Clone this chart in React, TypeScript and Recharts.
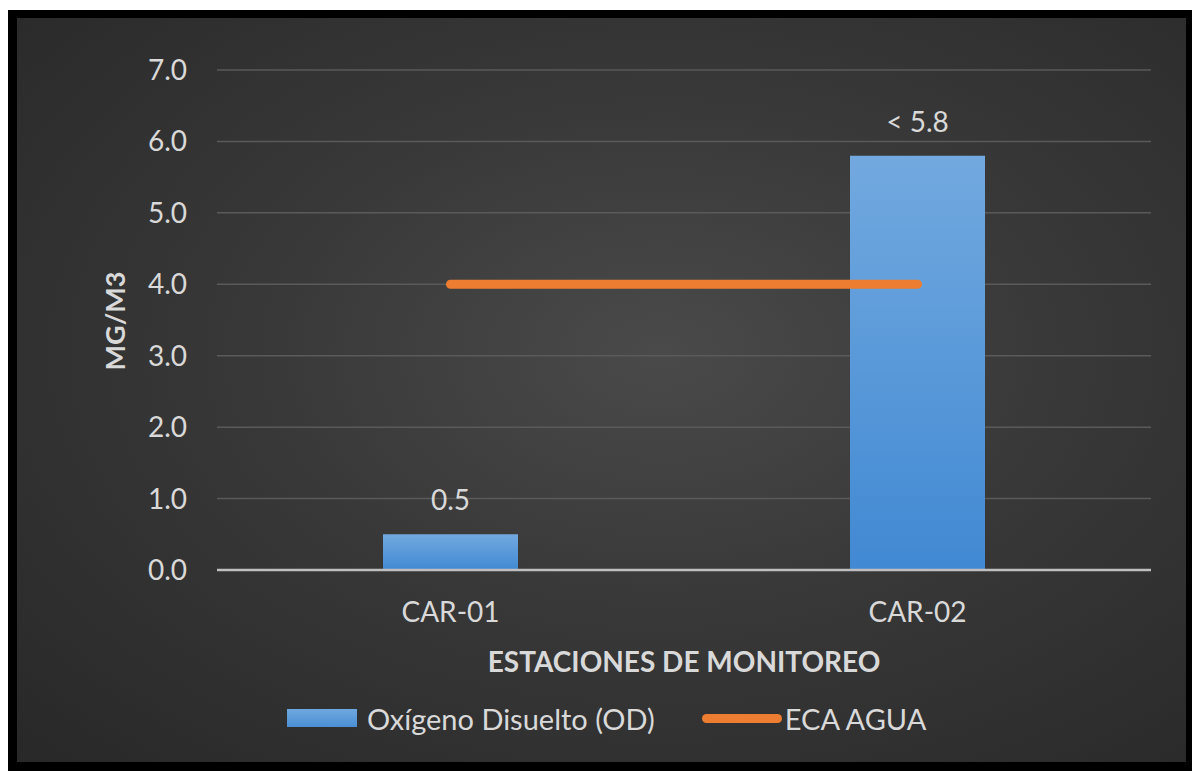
import { ComposedChart, Bar, Line, XAxis, YAxis, CartesianGrid, Legend, LabelList } from 'recharts'

const estaciones = ['CAR-01', 'CAR-02']
const oxigenoDisuelto = [0.5, 5.8]
const etiquetasOD = ['0.5', '< 5.8']
const ecaAgua = [4.0, 4.0]
const yTicks = [0, 1, 2, 3, 4, 5, 6, 7]

const data = estaciones.map((name, i) => ({
  name,
  od: oxigenoDisuelto[i],
  eca: ecaAgua[i],
  label: etiquetasOD[i],
}))

const font = 'Lato, "Open Sans", sans-serif'
const textColor = '#d9d9d9'

const renderLegend = () => (
  <div
    style={{
      display: 'flex',
      alignItems: 'center',
      height: 36,
      fontFamily: font,
      fontSize: 29,
      color: textColor,
      paddingLeft: 270,
    }}
  >
    <span style={{ display: 'inline-block', width: 70, height: 18, background: 'linear-gradient(#6fa8e0, #4a8fd4)', marginRight: 10 }} />
    <span>Oxígeno Disuelto (OD)</span>
    <span style={{ display: 'inline-block', width: 80, height: 9, borderRadius: 5, background: '#ED7D31', marginLeft: 47, marginRight: 3 }} />
    <span>ECA AGUA</span>
  </div>
)

export default function App() {
  return (
    <div style={{ position: 'fixed', left: 8, top: 10, right: 0, bottom: 0, background: '#000' }}>
      <div
        style={{
          position: 'absolute',
          left: 9,
          top: 8,
          width: 1169,
          height: 744,
          background: 'radial-gradient(ellipse at 55% 45%, #4a4a4a 0%, #383838 45%, #282828 100%)',
        }}
      >
        <ComposedChart
          width={1169}
          height={744}
          data={data}
          margin={{ top: 52, right: 35, bottom: 126, left: 80 }}
          style={{ fontFamily: font }}
        >
          <defs>
            <linearGradient id="odFill" x1="0" y1="0" x2="0" y2="1">
              <stop offset="0%" stopColor="#72a9df" />
              <stop offset="100%" stopColor="#4189d3" />
            </linearGradient>
          </defs>
          <CartesianGrid vertical={false} stroke="#5a5a5a" strokeWidth={1.5} />
          <XAxis
            dataKey="name"
            height={30}
            axisLine={{ stroke: '#bfbfbf', strokeWidth: 2.5 }}
            tickLine={false}
            tick={{ fill: textColor, fontSize: 28 }}
            tickMargin={26}
            label={{
              content: () => (
                <text x={667} y={654} textAnchor="middle" fill={textColor} fontSize={28} fontWeight="bold" fontFamily={font}>
                  ESTACIONES DE MONITOREO
                </text>
              ),
            }}
          />
          <YAxis
            width={120}
            domain={[0, 7]}
            ticks={yTicks}
            tickFormatter={(v: number) => v.toFixed(1)}
            axisLine={false}
            tickLine={false}
            tickSize={0}
            tickMargin={30}
            tick={{ fill: textColor, fontSize: 28 }}
            label={{
              content: () => (
                <text
                  x={0}
                  y={0}
                  transform="translate(108,303) rotate(-90)"
                  textAnchor="middle"
                  fill={textColor}
                  fontSize={27}
                  fontWeight="bold"
                  fontFamily={font}
                >
                  MG/M3
                </text>
              ),
            }}
          />
          <Legend
            content={renderLegend}
            wrapperStyle={{ position: 'absolute', top: 682, left: 0, width: 1169, height: 36 }}
          />
          <Bar dataKey="od" name="Oxígeno Disuelto (OD)" fill="url(#odFill)" barSize={135} isAnimationActive={false}>
            <LabelList dataKey="label" position="top" offset={24} fill={textColor} fontSize={28} />
          </Bar>
          <Line
            dataKey="eca"
            name="ECA AGUA"
            stroke="#ED7D31"
            strokeWidth={9}
            strokeLinecap="round"
            dot={false}
            activeDot={false}
            isAnimationActive={false}
          />
        </ComposedChart>
      </div>
    </div>
  )
}
